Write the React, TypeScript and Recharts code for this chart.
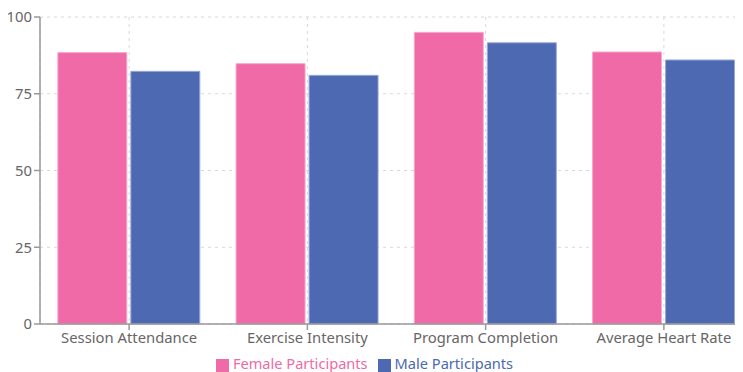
import React from 'react'
import { BarChart, Bar, XAxis, YAxis, CartesianGrid, Legend } from 'recharts'

const categories = ['Session Attendance', 'Exercise Intensity', 'Program Completion', 'Average Heart Rate']
const femaleValues = [88.4, 84.8, 95.0, 88.6]
const maleValues = [82.3, 81.0, 91.6, 86.0]
const yTicks = [0, 25, 50, 75, 100]

const data = categories.map((name, i) => ({
  name,
  female: femaleValues[i],
  male: maleValues[i]
}))

const FONT = '"Segoe UI", "Noto Sans", "Open Sans", sans-serif'

export default function App() {
  return (
    <div style={{ fontFamily: FONT }}>
      <BarChart
        width={757}
        height={364}
        data={data}
        margin={{ top: 9, right: 12, left: 0, bottom: 0 }}
        barCategoryGap="10%"
        barGap={4}
      >
        <CartesianGrid stroke="#d8d8d8" strokeDasharray="3 4" />
        <XAxis
          dataKey="name"
          height={28}
          tick={{ fill: '#666', fontSize: 14.8 }}
          stroke="#999"
          strokeWidth={1.5}
        />
        <YAxis
          width={32}
          domain={[0, 100]}
          ticks={yTicks}
          tick={{ fill: '#666', fontSize: 14.8 }}
          stroke="#999"
          strokeWidth={1.5}
        />
        <Legend
          iconType="square"
          iconSize={13}
          wrapperStyle={{ fontSize: 14.6, bottom: -1, left: -11 }}
          formatter={(value: string, entry: any) => (
            <span style={{ color: entry.color }}>{value}</span>
          )}
        />
        <Bar
          dataKey="female"
          name="Female Participants"
          fill="#F06AA7"
          stroke="#F7A8CB"
          strokeWidth={1}
          isAnimationActive={false}
        />
        <Bar
          dataKey="male"
          name="Male Participants"
          fill="#4C69B1"
          stroke="#98A9D8"
          strokeWidth={1}
          isAnimationActive={false}
        />
      </BarChart>
    </div>
  )
}
